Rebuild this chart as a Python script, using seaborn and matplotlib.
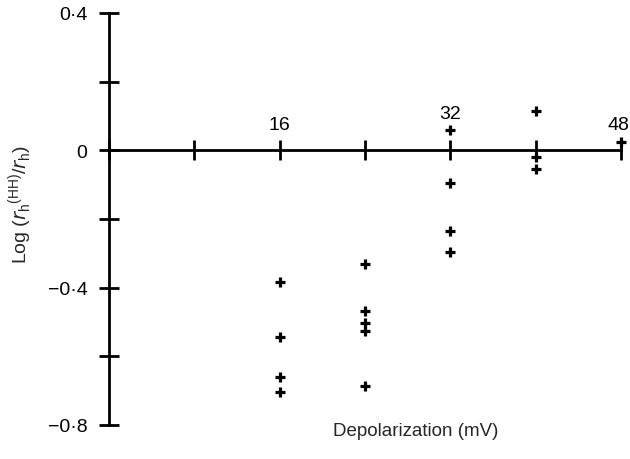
import matplotlib
matplotlib.use("Agg")
import matplotlib.pyplot as plt
import matplotlib.transforms as mtransforms
import seaborn as sns
import pandas as pd

# values
depol = [16, 16, 16, 16,
         24, 24, 24, 24, 24,
         32, 32, 32, 32,
         40, 40, 40,
         48]
log_ratio = [-0.383, -0.545, -0.660, -0.703,
             -0.331, -0.467, -0.503, -0.526, -0.686,
             0.059, -0.094, -0.235, -0.295,
             0.115, -0.020, -0.055,
             0.023]

x_ticks = [0, 8, 16, 24, 32, 40, 48]
x_labels = ['', '', '16', '', '32', '', '48']
y_ticks = [-0.8, -0.6, -0.4, -0.2, 0, 0.2, 0.4]
y_labels = ['\u22120\u00b78', '', '\u22120\u00b74', '', '0', '', '0\u00b74']

df = pd.DataFrame({'depol': depol, 'log_ratio': log_ratio})

sns.set_style('ticks')
plt.rcParams['font.family'] = ['Liberation Sans', 'DejaVu Sans']

fig = plt.figure(figsize=(6.3, 4.6), dpi=100)
ax = fig.add_axes([109 / 630, 1 - 426 / 460, (621 - 109) / 630, (426 - 14) / 460])

sns.scatterplot(data=df, x='depol', y='log_ratio', ax=ax, marker='+',
                color='black', s=60, linewidth=2.3, clip_on=False, legend=False)

ax.set_xlim(0, 48)
ax.set_ylim(-0.8, 0.4)

# x axis sits at y = 0, labels above it
ax.spines['bottom'].set_visible(False)
ax.spines['right'].set_visible(False)
ax.spines['top'].set_position(('data', 0))
for side in ['top', 'left']:
    ax.spines[side].set_linewidth(2)
    ax.spines[side].set_color('black')
ax.xaxis.set_ticks_position('top')
ax.xaxis.set_label_position('top')

ax.set_xticks(x_ticks)
ax.set_xticklabels(x_labels)
ax.set_yticks(y_ticks)
ax.set_yticklabels(y_labels)
ax.tick_params(axis='both', direction='inout', length=15, width=2,
               labelsize=14, colors='black')
ax.tick_params(axis='x', pad=5)
ax.tick_params(axis='y', pad=8)

# the "32" label is lifted clear of the point just above the axis
lbl32 = ax.get_xticklabels()[4]
lbl32.set_transform(lbl32.get_transform() +
                    mtransforms.ScaledTranslation(0, 11 / 100, fig.dpi_scale_trans))
# keep "48" inside the figure edge
lbl48 = ax.get_xticklabels()[6]
lbl48.set_horizontalalignment('right')
lbl48.set_transform(lbl48.get_transform() +
                    mtransforms.ScaledTranslation(8 / 100, 0, fig.dpi_scale_trans))

ax.set_xlabel('')
ax.set_ylabel('')
fig.text(416 / 630, 1 - 432 / 460, 'Depolarization (mV)', ha='center',
         va='center', fontsize=13.5)
fig.text(21 / 630, 1 - 204 / 460,
         r'Log ($r_\mathregular{h}$$^{\mathregular{(HH)}}$/$r_\mathregular{h}$)',
         rotation=90, ha='center', va='center', fontsize=14)

fig.savefig('out.png', dpi=100)
